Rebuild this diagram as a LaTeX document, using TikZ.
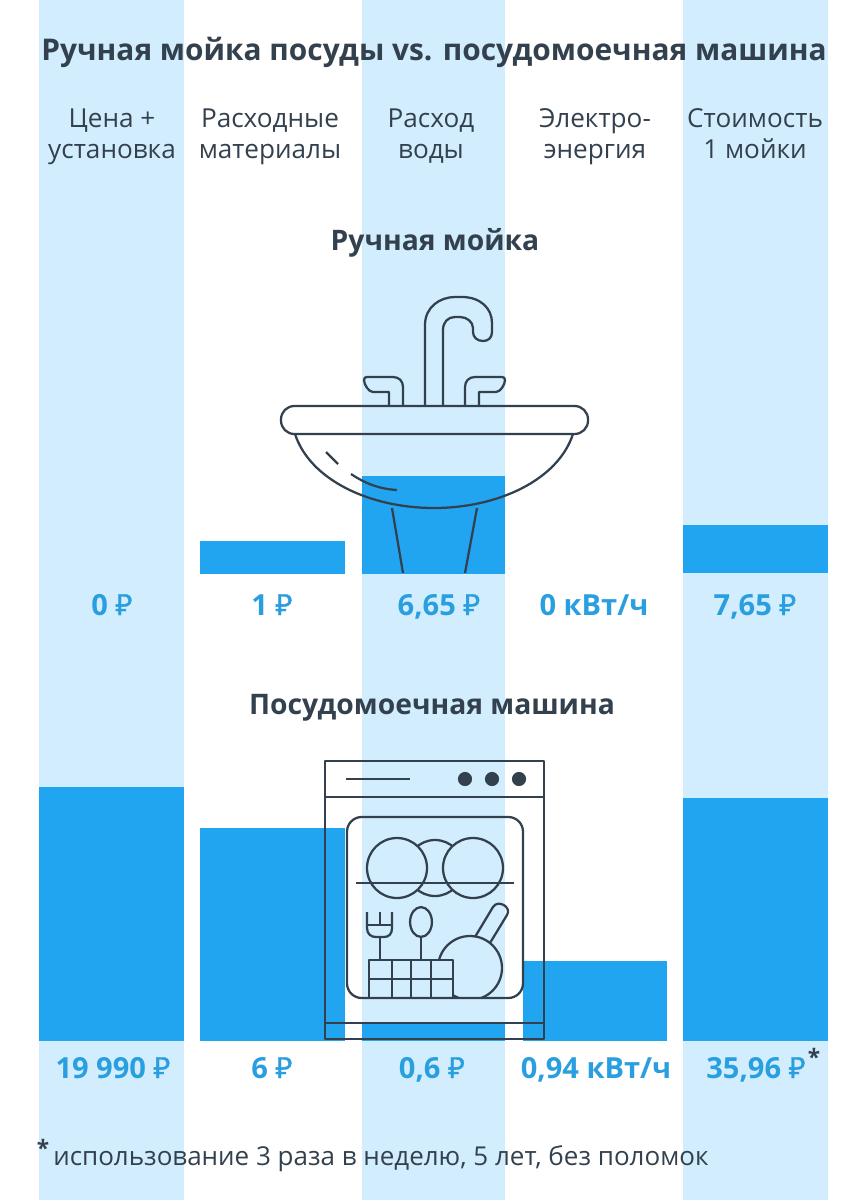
\documentclass[tikz,border=0pt]{standalone}
\usepackage{fontspec}
\setmainfont{Open Sans}
\newfontfamily\rubfont[FakeBold=1.2]{Noto Sans}
\newcommand{\rub}{{\rubfont\char"20BD}}
\definecolor{bandcol}{HTML}{D2EEFE}
\definecolor{barcol}{HTML}{22A5F1}
\definecolor{valcol}{HTML}{2A9FDF}
\definecolor{inkcol}{HTML}{33414F}
\tikzset{
  bar/.style={fill=barcol,draw=none},
  ink/.style={draw=inkcol,line width=1.7pt,line join=round},
  titletxt/.style={text=inkcol,font=\bfseries\fontsize{22.4}{26}\selectfont,inner sep=0pt,anchor=base},
  subtxt/.style={text=inkcol,font=\bfseries\fontsize{21.2}{25}\selectfont,inner sep=0pt,anchor=base},
  headtxt/.style={text=inkcol,font=\fontsize{19.6}{23.25}\selectfont,align=center,inner sep=0pt,
    execute at begin node=\strut,execute at end node=\strut},
  valtxt/.style={text=valcol,font=\bfseries\fontsize{21.8}{26}\selectfont,inner sep=0pt,anchor=base},
  startxt/.style={text=inkcol,font=\bfseries\fontsize{17}{20}\selectfont,inner sep=0pt,anchor=base},
  notetxt/.style={text=inkcol,font=\fontsize{19.5}{24}\selectfont,inner sep=0pt,anchor=base west}
}
\begin{document}
\begin{tikzpicture}[x=0.75pt,y=-0.75pt]
  \useasboundingbox (0,0) rectangle (867,1200);
  \foreach \x/\w in {39/184,362/505,683/828} \fill[bandcol] (\x,0) rectangle (\w,1200);

  % bars, top row
  \fill[bar] (200,541) rectangle (345,574);
  \fill[bar] (362,476) rectangle (505,574);
  \fill[bar] (683,525) rectangle (828,573);
  % bars, bottom row
  \fill[bar] (39,787) rectangle (184,1041);
  \fill[bar] (200,828) rectangle (345,1041);
  \fill[bar] (362,1023) rectangle (505,1041);
  \fill[bar] (523,961) rectangle (667,1041);
  \fill[bar] (683,798) rectangle (828,1041);

  \node[titletxt] (title) at (434,60) {Ручная мойка посуды vs. посудомоечная машина};
  \node[headtxt] (headA) at (112,138) {Цена +\\установка};
  \node[headtxt] (headB) at (270,138) {Расходные\\материалы};
  \node[headtxt] (headC) at (431,138) {Расход\\воды};
  \node[headtxt] (headD) at (595,138) {Электро-\\энергия};
  \node[headtxt] (headE) at (755,138) {Стоимость\\1 мойки};

  \node[subtxt] (hand) at (435,250) {Ручная мойка};
  \node[subtxt] (machine) at (432,714) {Посудомоечная машина};

  \node[valtxt] (valA) at (112,615) {0 \rub};
  \node[valtxt] (valB) at (272,615) {1 \rub};
  \node[valtxt] (valC) at (439,615) {6,65 \rub};
  \node[valtxt] (valD) at (594,615) {0 кВт/ч};
  \node[valtxt] (valE) at (755,615) {7,65 \rub};

  \node[valtxt] (costA) at (113,1078) {19 990 \rub};
  \node[valtxt] (costB) at (272,1078) {6 \rub};
  \node[valtxt] (costC) at (432,1078) {0,6 \rub};
  \node[valtxt] (costD) at (596,1078) {0,94 кВт/ч};
  \node[valtxt] (costE) at (756,1078) {35,96 \rub};
  \node[startxt] (starE) at (814,1065) {*};

  \node[startxt] (starN) at (43,1156) {*};
  \node[notetxt] (note) at (53,1165) {использование 3 раза в неделю, 5 лет, без поломок};

  % sink
  \draw[ink,rounded corners=10] (281,406) rectangle (588,434);
  \draw[ink] (295,434) .. controls (310,480) and (370,508) .. (434,508)
    .. controls (498,508) and (558,480) .. (573,434);
  \draw[ink] (326,452) -- (338,464);
  \draw[ink] (351,474) .. controls (366,484) and (380,489) .. (397,490);
  \draw[ink] (392,508) -- (403,573);
  \draw[ink] (477,508) -- (465,573);
  % faucet
  \draw[ink] (425,406) -- (425,325) .. controls (425,307) and (440,297) .. (455,297)
    -- (462,297) .. controls (480,297) and (492,308) .. (492,323) -- (492,332)
    .. controls (492,338) and (488,341) .. (483,341)
    .. controls (477,341) and (473,337) .. (473,332) -- (473,328)
    .. controls (473,322) and (467,317) .. (460,317) -- (455,317)
    .. controls (448,317) and (443,322) .. (443,330) -- (443,406);
  \draw[ink] (389,406) -- (389,392) -- (373,392) .. controls (369,392) and (364,385) .. (364,380)
    .. controls (364,378) and (365,377) .. (367,377) -- (393,377)
    .. controls (399,377) and (403,381) .. (403,387) -- (403,406);
  \draw[ink] (465,406) -- (465,387) .. controls (465,381) and (469,377) .. (475,377) -- (502,377)
    .. controls (504,377) and (505,378) .. (505,380)
    .. controls (505,385) and (500,392) .. (496,392) -- (479,392) -- (479,406);

  % dishwasher
  \draw[ink] (325,761) rectangle (544,1039);
  \draw[ink] (325,797) -- (544,797);
  \draw[ink] (325,1023) -- (544,1023);
  \draw[ink] (346,779) -- (410,779);
  \foreach \x in {465,492,519} \fill[inkcol] (\x,779) circle (5.3pt);
  \draw[ink,rounded corners=11] (347,817) rectangle (523,998);
  \draw[ink,fill=bandcol] (435,868) circle (21pt);
  \draw[ink,fill=bandcol] (397,868) circle (22.5pt);
  \draw[ink,fill=bandcol] (473,868) circle (22.5pt);
  \draw[ink] (356,883) -- (514,883);
  % fork and spoon
  \draw[ink] (367,912) -- (367,928) .. controls (367,934) and (371,937) .. (376,937)
    -- (384,937) .. controls (389,937) and (392,934) .. (392,928) -- (392,912);
  \draw[ink] (367,925) -- (392,925);
  \draw[ink] (380,912) -- (380,925);
  \draw[ink] (380,937) -- (380,960);
  \draw[ink] (421,922) ellipse (8.2pt and 11.2pt);
  \draw[ink] (421,937) -- (421,960);
  % pan
  \draw[ink] (475,937) -- (493,907) .. controls (498,899) and (512,907) .. (507,915) -- (490,943);
  \begin{scope}
    \clip (420,900) -- (520,900) -- (520,998) -- (453,998) -- (453,960) -- (420,960) -- cycle;
    \draw[ink] (470,968) circle (24pt);
  \end{scope}
  % basket
  \draw[ink] (369,960) rectangle (453,998);
  \draw[ink] (369,979) -- (453,979);
  \foreach \x in {392,411,431} \draw[ink] (\x,960) -- (\x,998);
\end{tikzpicture}
\end{document}
